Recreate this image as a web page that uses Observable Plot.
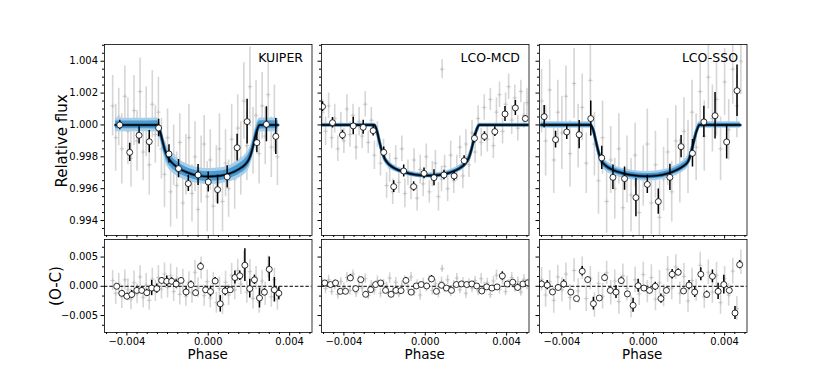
<!DOCTYPE html>
<html><head><meta charset="utf-8">
<script src="https://cdn.jsdelivr.net/npm/d3@7"></script>
<script src="https://cdn.jsdelivr.net/npm/@observablehq/plot@0.6"></script>
<style>
body{margin:0;background:#fff;font-family:"DejaVu Sans",sans-serif;}
#fig{position:relative;width:830px;height:374px;background:#fff;overflow:hidden;}
.lab{position:absolute;color:#000;white-space:nowrap;font-family:"DejaVu Sans",sans-serif;line-height:1;}
</style></head>
<body><div id="fig"></div>
<script>
// ---------- data ----------
const panelNames = ["KUIPER", "LCO-MCD", "LCO-SSO"];

// Top panels: raw points [phase, flux, err]
const kuiperGray = [[-0.0047,1.0012,0.0019],[-0.00455,0.9992,0.0021],[-0.0044,1.0005,0.0018],[-0.00425,0.9985,0.0022],[-0.0041,1.0018,0.0019],[-0.00395,0.9996,0.0021],[-0.0038,0.9979,0.0018],[-0.00365,1.0009,0.0022],[-0.0035,0.9990,0.0019],[-0.00335,1.0021,0.0021],[-0.0032,0.9983,0.0018],[-0.00305,1.0002,0.0022],[-0.0029,0.9975,0.0019],[-0.00275,1.0013,0.0021],[-0.0026,0.9994,0.0018],[-0.00245,1.0008,0.0022],[-0.0023,0.9985,0.0019],[-0.00215,0.9969,0.0021],[-0.002,0.9992,0.0018],[-0.00185,0.9958,0.0022],[-0.0017,0.9981,0.0019],[-0.00155,0.9962,0.0021],[-0.0014,0.9989,0.0018],[-0.00125,0.9951,0.0022],[-0.0011,0.9975,0.0019],[-0.00095,0.9992,0.0021],[-0.0008,0.9957,0.0018],[-0.00065,0.9980,0.0022],[-0.0005,0.9947,0.0019],[-0.00035,0.9972,0.0021],[-0.0002,0.9988,0.0018],[-0.00005,0.9955,0.0022],[0.0001,0.9978,0.0019],[0.00025,0.9949,0.0021],[0.0004,0.9969,0.0018],[0.00055,0.9985,0.0022],[0.0007,0.9952,0.0019],[0.00085,0.9976,0.0021],[0.001,0.9960,0.0018],[0.00115,0.9991,0.0022],[0.0013,0.9966,0.0019],[0.00145,0.9998,0.0021],[0.0016,0.9979,0.0023],[0.00175,1.0015,0.0024],[0.0019,0.9987,0.0022],[0.00205,1.0024,0.0025],[0.0022,0.9990,0.0021],[0.00235,1.0006,0.0022],[0.0025,0.9982,0.0019],[0.00265,1.0012,0.0021],[0.0028,0.9993,0.0018],[0.00295,1.0019,0.0022],[0.0031,0.9986,0.0019],[0.00325,1.0004,0.0021],[0.0034,0.9980,0.0018]];
const mcdGray = [[-0.00505,1.0008,0.0008],[-0.0049,0.9996,0.0009],[-0.00475,1.0012,0.0008],[-0.0046,0.9992,0.0007],[-0.00445,1.0004,0.0009],[-0.0043,0.9985,0.0008],[-0.00415,1.0001,0.0007],[-0.004,0.9990,0.0008],[-0.00385,1.0010,0.0009],[-0.0037,0.9994,0.0008],[-0.00355,1.0006,0.0007],[-0.0034,0.9986,0.0008],[-0.00325,1.0002,0.0009],[-0.0031,0.9993,0.0008],[-0.00295,1.0013,0.0008],[-0.0028,0.9989,0.0007],[-0.00265,1.0003,0.0008],[-0.0025,0.9981,0.0009],[-0.00235,0.9994,0.0008],[-0.0022,0.9976,0.0008],[-0.00205,0.9984,0.0007],[-0.0019,0.9962,0.0008],[-0.00175,0.9973,0.0009],[-0.0016,0.9958,0.0008],[-0.00145,0.9979,0.0008],[-0.0013,0.9964,0.0007],[-0.00115,0.9985,0.0008],[-0.001,0.9957,0.0009],[-0.00085,0.9970,0.0008],[-0.0007,0.9961,0.0008],[-0.00055,0.9978,0.0007],[-0.0004,0.9954,0.0008],[-0.00025,0.9972,0.0009],[-0.0001,0.9963,0.0008],[0.00005,0.9980,0.0008],[0.0002,0.9958,0.0007],[0.00035,0.9969,0.0008],[0.0005,0.9976,0.0008],[0.00083,1.0035,0.0006],[0.00065,0.9955,0.0009],[0.0008,0.9966,0.0008],[0.00095,0.9974,0.0007],[0.0011,0.9960,0.0008],[0.00125,0.9981,0.0009],[0.0014,0.9965,0.0008],[0.00155,0.9973,0.0008],[0.0017,0.9986,0.0007],[0.00185,0.9968,0.0008],[0.002,0.9988,0.0009],[0.00215,0.9975,0.0008],[0.0023,0.9995,0.0008],[0.00245,0.9983,0.0007],[0.0026,1.0004,0.0008],[0.00275,0.9989,0.0009],[0.0029,1.0011,0.0008],[0.00305,0.9991,0.0008],[0.0032,1.0016,0.0007],[0.00335,0.9987,0.0008],[0.0035,1.0008,0.0009],[0.00365,1.0019,0.0008],[0.0038,0.9996,0.0008],[0.00395,1.0013,0.0007],[0.0041,1.0024,0.0008],[0.00425,1.0003,0.0009],[0.0044,1.0017,0.0008],[0.00455,0.9998,0.0008],[0.0047,1.0021,0.0007],[0.00485,1.0006,0.0008],[0.005,1.0014,0.0009]];
const ssoGray = [[-0.005,1.0015,0.002],[-0.0048,0.9990,0.0022],[-0.0046,1.0022,0.0019],[-0.0044,0.9978,0.0021],[-0.0042,1.0008,0.002],[-0.004,0.9995,0.0023],[-0.0038,1.0018,0.0019],[-0.0036,0.9982,0.0021],[-0.0034,1.0026,0.0022],[-0.0032,0.9993,0.002],[-0.003,1.0011,0.0021],[-0.0028,0.9976,0.0019],[-0.0026,1.0028,0.0022],[-0.0024,0.9988,0.002],[-0.0022,0.9965,0.0021],[-0.002,0.9992,0.0023],[-0.0018,0.9952,0.002],[-0.0016,0.9978,0.0021],[-0.0014,0.9960,0.0019],[-0.0012,0.9985,0.0022],[-0.001,0.9948,0.002],[-0.0008,0.9972,0.0021],[-0.0006,0.9956,0.0023],[-0.0004,0.9981,0.002],[-0.0002,0.9945,0.0021],[0,0.9968,0.0019],[0.0002,0.9988,0.0022],[0.0004,0.9951,0.002],[0.0006,0.9975,0.0021],[0.0008,0.9942,0.0023],[0.001,0.9966,0.002],[0.0012,0.9983,0.0021],[0.0014,0.9958,0.0019],[0.0016,0.9990,0.0022],[0.0018,0.9971,0.002],[0.002,0.9996,0.0021],[0.0022,0.9980,0.0023],[0.0024,1.0008,0.002],[0.0026,0.9986,0.0021],[0.0028,1.0021,0.0019],[0.003,0.9993,0.0022],[0.0032,1.0030,0.002],[0.0034,1.0004,0.0021],[0.0036,1.0016,0.0023],[0.0038,0.9985,0.002],[0.004,1.0027,0.0021],[0.0042,0.9997,0.0019],[0.0044,1.0035,0.0022],[0.0046,1.0012,0.002],[0.0048,1.0040,0.0021]];

// Top panels: binned points [phase, flux, err]
const kuiperBins = [[-0.00435,1.0000,0.0003],[-0.00386,0.99828,0.00057],[-0.0034,0.99935,0.00054],[-0.0029,0.99895,0.0007],[-0.00244,0.99981,0.00055],[-0.00193,0.99818,0.00057],[-0.00146,0.99726,0.00057],[-0.00098,0.99632,0.0005],[-0.0005,0.99686,0.00066],[0.0000,0.99642,0.00063],[0.00046,0.99594,0.0009],[0.00093,0.99674,0.0007],[0.00142,0.99857,0.00084],[0.00191,1.00021,0.0014],[0.00239,0.99889,0.00063],[0.00286,1.00004,0.0011],[0.00332,0.99928,0.00113]];
const mcdBins = [[-0.00505,1.00115,0.0003],[-0.00456,1.00014,0.00033],[-0.00407,0.99937,0.0003],[-0.00354,0.99994,0.00055],[-0.00305,0.99985,0.00044],[-0.00256,0.99964,0.00033],[-0.00204,0.99828,0.00033],[-0.00155,0.99613,0.00037],[-0.00106,0.99711,0.00037],[-0.00057,0.99613,0.0003],[-0.00006,0.99696,0.00033],[0.00043,0.99669,0.0005],[0.00092,0.99686,0.0003],[0.00142,0.9968,0.0003],[0.00191,0.99776,0.0003],[0.00242,0.99916,0.0003],[0.00291,0.99928,0.0003],[0.00342,0.99958,0.0003],[0.00392,1.00069,0.00047],[0.00443,1.00107,0.00047],[0.00492,1.0004,0.0002]];
const ssoBins = [[-0.00487,1.00052,0.0007],[-0.00431,0.99908,0.00052],[-0.00376,0.99956,0.00047],[-0.00315,0.99939,0.00089],[-0.00258,1.0004,0.0011],[-0.00204,0.99793,0.00073],[-0.00149,0.99671,0.00077],[-0.00092,0.99663,0.00073],[-0.00036,0.99544,0.0012],[0.0002,0.99627,0.00058],[0.00074,0.99519,0.00079],[0.00131,0.99671,0.00082],[0.00186,0.99864,0.0007],[0.00242,0.99822,0.00086],[0.00298,1.00019,0.00098],[0.00353,1.00058,0.00146],[0.0041,0.99893,0.00107],[0.00461,1.00215,0.00162]];

// Transit models: [phase, flux, outer half-width, inner half-width]
const kuiperModel = [[-0.00456,1.0,0.00042,0.00024],[-0.0035,1.0,0.00042,0.00024],[-0.0025,1.0,0.00044,0.00026],[-0.00238,0.99965,0.0005,0.0003],[-0.00226,0.99905,0.00056,0.00033],[-0.00214,0.99845,0.0006,0.00035],[-0.002,0.998,0.00062,0.00036],[-0.0018,0.99765,0.0006,0.00035],[-0.0015,0.99733,0.00056,0.00033],[-0.001,0.997,0.00052,0.0003],[-0.0005,0.99682,0.0005,0.0003],[0.00005,0.99676,0.0005,0.0003],[0.0006,0.99681,0.0005,0.0003],[0.0011,0.99697,0.00052,0.0003],[0.0015,0.99722,0.00056,0.00033],[0.0018,0.9975,0.0006,0.00035],[0.002,0.99785,0.00062,0.00036],[0.00214,0.99835,0.0006,0.00035],[0.00227,0.99905,0.00056,0.00033],[0.0024,0.99968,0.0005,0.0003],[0.00252,1.0,0.00044,0.00026],[0.00343,1.0,0.00042,0.00024]];
const mcdModel = [[-0.0051,1.0,0.0001,0.00005],[-0.0025,1.0,0.0001,0.00005],[-0.00238,0.99965,0.00016,0.00008],[-0.00226,0.999,0.00022,0.00011],[-0.00213,0.99835,0.00025,0.00013],[-0.002,0.9979,0.00025,0.00013],[-0.0018,0.99755,0.00023,0.00012],[-0.0015,0.99727,0.0002,0.0001],[-0.001,0.99703,0.00018,0.00009],[-0.0005,0.99688,0.00017,0.00009],[0.0001,0.99682,0.00017,0.00009],[0.0007,0.99686,0.00017,0.00009],[0.0012,0.997,0.00018,0.00009],[0.00165,0.99725,0.0002,0.0001],[0.00195,0.99755,0.00023,0.00012],[0.00215,0.99795,0.00025,0.00013],[0.00228,0.9985,0.00025,0.00013],[0.00241,0.9992,0.00022,0.00011],[0.00254,0.99975,0.00016,0.00008],[0.00265,1.0,0.0001,0.00005],[0.0051,1.0,0.0001,0.00005]];
const ssoModel = [[-0.00502,1.0,0.0002,0.0001],[-0.00258,1.0,0.0002,0.0001],[-0.00245,0.99965,0.00028,0.00015],[-0.00233,0.999,0.00034,0.00019],[-0.0022,0.9983,0.00036,0.0002],[-0.00205,0.99775,0.00036,0.0002],[-0.00185,0.99745,0.00034,0.00019],[-0.0015,0.99718,0.00032,0.00018],[-0.001,0.99697,0.0003,0.00017],[-0.0005,0.99684,0.0003,0.00017],[0.0001,0.99678,0.0003,0.00017],[0.0007,0.99682,0.0003,0.00017],[0.0012,0.99695,0.0003,0.00017],[0.0016,0.99715,0.00032,0.00018],[0.00195,0.9974,0.00034,0.00019],[0.0022,0.9977,0.00036,0.0002],[0.00236,0.9983,0.00036,0.0002],[0.0025,0.99905,0.00034,0.00019],[0.00263,0.99965,0.00028,0.00015],[0.00276,1.0,0.0002,0.0001],[0.00477,1.0,0.0002,0.0001]];

// Bottom panels: raw residuals [phase, O-C, err]
const kuiperOCGray = [[-0.0047,0.0010,0.0017],[-0.00455,-0.0012,0.0019],[-0.0044,0.0004,0.0018],[-0.00425,-0.0018,0.002],[-0.0041,0.0011,0.0017],[-0.00395,-0.0006,0.0019],[-0.0038,-0.0022,0.0018],[-0.00365,0.0006,0.002],[-0.0035,-0.0013,0.0017],[-0.00335,0.0016,0.0019],[-0.0032,-0.0019,0.0018],[-0.00305,0.0002,0.002],[-0.0029,-0.0024,0.0017],[-0.00275,0.0012,0.0019],[-0.0026,-0.0008,0.0018],[-0.00245,0.0015,0.002],[-0.0023,-0.0005,0.0017],[-0.00215,0.0021,0.0019],[-0.002,-0.0002,0.0018],[-0.00185,0.0018,0.002],[-0.0017,-0.0009,0.0017],[-0.00155,0.0013,0.0019],[-0.0014,-0.0014,0.0018],[-0.00125,0.0009,0.002],[-0.0011,-0.0017,0.0017],[-0.00095,0.0006,0.0019],[-0.0008,-0.0011,0.0018],[-0.00065,0.0024,0.002],[-0.0005,-0.0003,0.0017],[-0.00035,0.0031,0.0019],[-0.0002,-0.0016,0.0018],[-0.00005,0.0008,0.002],[0.0001,-0.0020,0.0017],[0.00025,0.0005,0.0019],[0.0004,-0.0028,0.0018],[0.00055,-0.0004,0.002],[0.0007,-0.0031,0.0017],[0.00085,0.0007,0.0019],[0.001,-0.0015,0.0018],[0.00115,0.0019,0.002],[0.0013,-0.0006,0.0017],[0.00145,0.0027,0.0019],[0.0016,0.0004,0.0018],[0.00175,0.0038,0.0022],[0.0019,-0.0010,0.0019],[0.00205,0.0025,0.0021],[0.0022,-0.0021,0.0018],[0.00235,0.0014,0.002],[0.0025,-0.0027,0.0019],[0.00265,0.0009,0.0018],[0.0028,-0.0013,0.002],[0.00295,0.0033,0.0019],[0.0031,-0.0018,0.0018],[0.00325,0.0011,0.002],[0.0034,-0.0022,0.0019]];
const mcdOCGray = [[-0.00505,0.0006,0.0008],[-0.0049,-0.0004,0.0009],[-0.00475,0.0011,0.0008],[-0.0046,-0.0009,0.0007],[-0.00445,0.0003,0.0009],[-0.0043,-0.0014,0.0008],[-0.00415,0.0008,0.0007],[-0.004,-0.0002,0.0008],[-0.00385,0.0015,0.0009],[-0.0037,-0.0007,0.0008],[-0.00355,0.0021,0.0007],[-0.0034,-0.0011,0.0008],[-0.00325,0.0009,0.0009],[-0.0031,-0.0003,0.0008],[-0.00295,0.0013,0.0008],[-0.0028,-0.0016,0.0007],[-0.00265,0.0002,0.0008],[-0.0025,-0.0006,0.0009],[-0.00235,0.0010,0.0008],[-0.0022,-0.0012,0.0008],[-0.00205,0.0005,0.0007],[-0.0019,-0.0001,0.0008],[-0.00175,0.0014,0.0009],[-0.0016,-0.0008,0.0008],[-0.00145,0.0007,0.0008],[-0.0013,-0.0013,0.0007],[-0.00115,0.0001,0.0008],[-0.001,0.0009,0.0009],[-0.00085,-0.0005,0.0008],[-0.0007,0.0016,0.0008],[-0.00055,-0.0010,0.0007],[-0.0004,0.0003,0.0008],[-0.00025,-0.0015,0.0009],[-0.0001,0.0006,0.0008],[0.00005,-0.0002,0.0008],[0.0002,0.0012,0.0007],[0.00035,-0.0007,0.0008],[0.0005,0.0004,0.0008],[0.00083,0.0030,0.0006],[0.00065,-0.0011,0.0009],[0.0008,0.0008,0.0008],[0.00095,-0.0004,0.0007],[0.0011,0.0011,0.0008],[0.00125,-0.0009,0.0009],[0.0014,0.0002,0.0008],[0.00155,0.0014,0.0008],[0.0017,-0.0006,0.0007],[0.00185,0.0007,0.0008],[0.002,-0.0012,0.0009],[0.00215,0.0005,0.0008],[0.0023,-0.0003,0.0008],[0.00245,0.0010,0.0007],[0.0026,-0.0008,0.0008],[0.00275,0.0013,0.0009],[0.0029,-0.0001,0.0008],[0.00305,0.0006,0.0008],[0.0032,-0.0014,0.0007],[0.00335,0.0009,0.0008],[0.0035,0.0019,0.0009],[0.00365,-0.0005,0.0008],[0.0038,0.0011,0.0008],[0.00395,-0.0009,0.0007],[0.0041,0.0004,0.0008],[0.00425,0.0015,0.0009],[0.0044,-0.0002,0.0008],[0.00455,0.0008,0.0008],[0.0047,-0.0010,0.0007],[0.00485,0.0012,0.0008],[0.005,0.0003,0.0009]];
const ssoOCGray = [[-0.005,0.0012,0.002],[-0.0048,-0.0015,0.0021],[-0.0046,0.0008,0.0019],[-0.0044,-0.0024,0.0022],[-0.0042,0.0016,0.002],[-0.004,-0.0006,0.0021],[-0.0038,0.0021,0.0019],[-0.0036,-0.0019,0.0022],[-0.0034,0.0027,0.002],[-0.0032,-0.0008,0.0021],[-0.003,0.0031,0.0019],[-0.0028,-0.0021,0.0022],[-0.0026,0.0014,0.002],[-0.0024,-0.0032,0.0021],[-0.0022,0.0005,0.0019],[-0.002,-0.0017,0.0022],[-0.0018,0.0023,0.002],[-0.0016,-0.0011,0.0021],[-0.0014,0.0009,0.0019],[-0.0012,-0.0026,0.0022],[-0.001,0.0018,0.002],[-0.0008,-0.0004,0.0021],[-0.0006,-0.0035,0.0019],[-0.0004,0.0011,0.0022],[-0.0002,-0.0013,0.002],[0,0.0020,0.0021],[0.0002,-0.0009,0.0019],[0.0004,0.0015,0.0022],[0.0006,-0.0022,0.002],[0.0008,0.0006,0.0021],[0.001,-0.0016,0.0019],[0.0012,0.0029,0.0022],[0.0014,-0.0003,0.002],[0.0016,0.0033,0.0021],[0.0018,-0.0012,0.0019],[0.002,0.0017,0.0022],[0.0022,-0.0025,0.002],[0.0024,0.0010,0.0021],[0.0026,-0.0007,0.0019],[0.0028,0.0036,0.0022],[0.003,-0.0018,0.002],[0.0032,0.0024,0.0021],[0.0034,-0.0010,0.0019],[0.0036,0.0019,0.0022],[0.0038,-0.0028,0.002],[0.004,0.0013,0.0021],[0.0042,-0.0015,0.0019],[0.0044,0.0026,0.0022],[0.0046,-0.0038,0.002],[0.0048,0.0041,0.0021]];

// Bottom panels: binned residuals [phase, O-C, err]
const kuiperOCBins = [[-0.0045,0.0000,0.0003],[-0.00425,-0.0012,0.0005],[-0.0040,-0.0017,0.0005],[-0.00376,-0.0014,0.0007],[-0.00351,-0.0007,0.0005],[-0.00327,-0.0007,0.0006],[-0.00302,-0.0011,0.0006],[-0.00278,-0.0003,0.0013],[-0.00253,-0.0004,0.0008],[-0.00229,0.0010,0.0005],[-0.00204,0.00086,0.0009],[-0.0018,0.00086,0.0006],[-0.00158,0.0004,0.0007],[-0.00134,0.0010,0.0004],[-0.00109,-0.00097,0.0007],[-0.00085,0.0003,0.0006],[-0.00062,-0.0011,0.0005],[-0.00038,0.0034,0.0006],[-0.00013,-0.0006,0.0006],[0.00011,-0.0009,0.0009],[0.00034,0.0009,0.0006],[0.00059,-0.0030,0.0014],[0.00083,-0.0008,0.0008],[0.00108,-0.0006,0.0005],[0.00131,0.0015,0.0011],[0.00155,0.0018,0.0008],[0.0018,0.0036,0.0028],[0.00204,-0.0004,0.0016],[0.00227,0.0011,0.0008],[0.00252,-0.0020,0.0017],[0.00276,-0.0010,0.0006],[0.003,0.0029,0.0021],[0.00325,-0.0006,0.0021],[0.00347,-0.0012,0.0011]];
const mcdOCBins = [[-0.00494,0.00057,0.0004],[-0.00466,0.0003,0.0003],[-0.00441,0.00057,0.0003],[-0.00417,-0.00086,0.0004],[-0.00392,-0.00086,0.0003],[-0.00368,0.00143,0.0006],[-0.00342,-0.0004,0.0004],[-0.00317,0.00114,0.0003],[-0.00293,-0.00137,0.0005],[-0.00268,-0.00057,0.0004],[-0.00244,0.0003,0.0003],[-0.00219,0.00057,0.0003],[-0.00195,-0.0007,0.0003],[-0.00168,-0.00137,0.0003],[-0.00144,-0.0007,0.0004],[-0.00119,-0.00074,0.0003],[-0.00095,0.001,0.0005],[-0.00069,-0.001,0.0003],[-0.00044,0.00006,0.0003],[-0.0002,0.0003,0.0003],[0.00007,0.00006,0.0003],[0.00031,0.00125,0.0006],[0.00055,-0.00086,0.0003],[0.0008,0.00017,0.0003],[0.00104,-0.0003,0.0003],[0.00129,-0.0007,0.0003],[0.00153,0.0003,0.0003],[0.00178,0.0004,0.0003],[0.00204,0.0003,0.0003],[0.00229,0.0004,0.0003],[0.00253,0.00006,0.0003],[0.00278,-0.0008,0.0003],[0.00302,-0.0001,0.0003],[0.00328,-0.0003,0.0003],[0.00353,-0.0001,0.0003],[0.00379,0.00177,0.0007],[0.00403,0.0004,0.0004],[0.0043,0.0007,0.0003],[0.00454,-0.0002,0.0006],[0.0048,0.0004,0.0003],[0.00505,0.0006,0.0003]];
const ssoOCBins = [[-0.005,0.0004,0.0005],[-0.00472,0.0002,0.0008],[-0.00446,-0.00097,0.0004],[-0.00418,-0.0002,0.0005],[-0.00391,0.0004,0.0007],[-0.00356,-0.001,0.0004],[-0.00328,-0.0021,0.0004],[-0.003,0.00257,0.0008],[-0.00273,0.00114,0.0005],[-0.00245,-0.00297,0.0011],[-0.00216,-0.002,0.0004],[-0.0019,0.00148,0.0006],[-0.00162,-0.0007,0.0004],[-0.00134,-0.001,0.0011],[-0.00108,0.00097,0.0006],[-0.00078,-0.0013,0.0004],[-0.0005,-0.00325,0.0012],[-0.00025,0.0001,0.0011],[0.00003,-0.0003,0.0004],[0.00031,-0.0007,0.0004],[0.00059,0.0000,0.0007],[0.00087,-0.0021,0.0008],[0.00114,-0.0007,0.0004],[0.00142,0.00205,0.0008],[0.00172,0.0024,0.0006],[0.00198,-0.0008,0.0004],[0.00225,0.0002,0.0008],[0.00253,-0.001,0.0009],[0.00283,0.00205,0.0011],[0.00312,-0.0014,0.0006],[0.0034,0.0017,0.0011],[0.00368,-0.00086,0.0014],[0.00396,0.0003,0.0016],[0.00423,-0.0007,0.0004],[0.00451,-0.00457,0.0011],[0.00474,0.0037,0.0007]];

// axes
const xDomain = [-0.0051, 0.0051];
const fluxDomain = [0.99306, 1.00505];
const ocDomain = [-0.0079, 0.0080];
const xMajorTicks = [-0.004, 0.000, 0.004];
const xMinorTicks = [-0.005,-0.0045,-0.0035,-0.003,-0.0025,-0.002,-0.0015,-0.001,-0.0005,0.0005,0.001,0.0015,0.002,0.0025,0.003,0.0035,0.0045,0.005];
const fluxMajorTicks = [0.994, 0.996, 0.998, 1.000, 1.002, 1.004];
const fluxMinorTicks = [0.9935,0.9945,0.995,0.9955,0.9965,0.997,0.9975,0.9985,0.999,0.9995,1.0005,1.001,1.0015,1.0025,1.003,1.0035,1.0045,1.005];
const ocMajorTicks = [-0.005, 0.000, 0.005];
const ocMinorTicks = [-0.00667,-0.00333,-0.00167,0.00167,0.00333,0.00667];

// ---------- layout ----------
const panels = [
  {name: panelNames[0], gray: kuiperGray, bins: kuiperBins, model: kuiperModel, ocGray: kuiperOCGray, ocBins: kuiperOCBins},
  {name: panelNames[1], gray: mcdGray, bins: mcdBins, model: mcdModel, ocGray: mcdOCGray, ocBins: mcdOCBins},
  {name: panelNames[2], gray: ssoGray, bins: ssoBins, model: ssoModel, ocGray: ssoOCGray, ocBins: ssoOCBins}
];
const colLeft = [104, 321, 538.5];
const frameW = 207.5;
const topY = 44, topH = 191, botY = 239, botH = 93;
const mL = 50, mR = 6, mT = 6, mB = 20;
const fmt = d3.format(".3f");
const fig = document.getElementById("fig");
const style = {background: "transparent", fontFamily: "DejaVu Sans", fontSize: "10px", color: "#000", overflow: "visible"};
const px = d => d[0];

function grayMarks(data) {
  return [
    Plot.ruleX(data, {x: px, y1: d => d[1] - d[2], y2: d => d[1] + d[2], stroke: "#d6d6d6", strokeWidth: 1.6, clip: true}),
    Plot.dot(data, {x: px, y: d => d[1], symbol: "plus", r: 1.5, stroke: "#bdbdbd", strokeWidth: 0.8, clip: true})
  ];
}
function binMarks(data) {
  return [
    Plot.ruleX(data, {x: px, y1: d => d[1] - d[2], y2: d => d[1] + d[2], stroke: "#000", strokeWidth: 1.5, clip: true}),
    Plot.dot(data, {x: px, y: d => d[1], r: 3, fill: "#fff", stroke: "#000", strokeWidth: 0.8, clip: true})
  ];
}

panels.forEach((p, i) => {
  const first = i === 0;
  const top = Plot.plot({
    width: frameW + mL + mR, height: topH + mT + mB,
    marginLeft: mL, marginRight: mR, marginTop: mT, marginBottom: mB,
    x: {domain: xDomain}, y: {domain: fluxDomain},
    style,
    marks: [
      ...grayMarks(p.gray),
      Plot.areaY(p.model, {x: px, y1: d => d[1] - d[2], y2: d => d[1] + d[2], fill: "#a7cfea", curve: "monotone-x", clip: true}),
      Plot.areaY(p.model, {x: px, y1: d => d[1] - d[3], y2: d => d[1] + d[3], fill: "#4d9ad0", curve: "monotone-x", clip: true}),
      Plot.line(p.model, {x: px, y: d => d[1], stroke: "#1d5f92", strokeWidth: 3, curve: "monotone-x", clip: true}),
      Plot.line(p.model, {x: px, y: d => d[1], stroke: "#000", strokeWidth: 1.4, curve: "monotone-x", clip: true}),
      ...binMarks(p.bins),
      Plot.text([p.name], {frameAnchor: "top-right", dx: -9, dy: 9, lineAnchor: "top", textAnchor: "end", fontSize: 12.5, fill: "#000"}),
      Plot.axisX({ticks: xMajorTicks, tickSize: 3.5, fill: "none", label: null}),
      Plot.axisX({ticks: xMinorTicks, tickSize: 2, fill: "none", label: null}),
      Plot.axisY({ticks: fluxMajorTicks, tickSize: 3.5, tickPadding: 3, tickFormat: fmt, label: null, ...(first ? {} : {fill: "none"})}),
      Plot.axisY({ticks: fluxMinorTicks, tickSize: 2, fill: "none", label: null}),
      Plot.frame({stroke: "#000", strokeWidth: 0.8})
    ]
  });
  top.style.position = "absolute";
  top.style.left = (colLeft[i] - mL) + "px";
  top.style.top = (topY - mT) + "px";
  fig.appendChild(top);

  const bot = Plot.plot({
    width: frameW + mL + mR, height: botH + mT + mB,
    marginLeft: mL, marginRight: mR, marginTop: mT, marginBottom: mB,
    x: {domain: xDomain}, y: {domain: ocDomain},
    style,
    marks: [
      ...grayMarks(p.ocGray),
      Plot.ruleY([0], {stroke: "#000", strokeWidth: 1, strokeDasharray: "3.5,1.8"}),
      ...binMarks(p.ocBins),
      Plot.axisX({ticks: xMajorTicks, tickSize: 3.5, tickPadding: 1.5, tickFormat: fmt, label: null}),
      Plot.axisX({ticks: xMinorTicks, tickSize: 2, fill: "none", label: null}),
      Plot.axisY({ticks: ocMajorTicks, tickSize: 3.5, tickPadding: 3, tickFormat: fmt, label: null, ...(first ? {} : {fill: "none"})}),
      Plot.axisY({ticks: ocMinorTicks, tickSize: 2, fill: "none", label: null}),
      Plot.frame({stroke: "#000", strokeWidth: 0.8})
    ]
  });
  bot.style.position = "absolute";
  bot.style.left = (colLeft[i] - mL) + "px";
  bot.style.top = (botY - mT) + "px";
  fig.appendChild(bot);

  const ph = document.createElement("div");
  ph.className = "lab";
  ph.textContent = "Phase";
  ph.style.fontSize = "13.5px";
  ph.style.left = (colLeft[i] + frameW / 2) + "px";
  ph.style.top = "355px";
  ph.style.transform = "translate(-50%,-50%)";
  fig.appendChild(ph);
});

function ylab(text, x, y) {
  const d = document.createElement("div");
  d.className = "lab";
  d.textContent = text;
  d.style.fontSize = "15px";
  d.style.left = x + "px";
  d.style.top = y + "px";
  d.style.transform = "translate(-50%,-50%) rotate(-90deg)";
  fig.appendChild(d);
}
ylab("Relative flux", 62, 141);
ylab("(O-C)", 56, 286);
</script>
</body></html>
